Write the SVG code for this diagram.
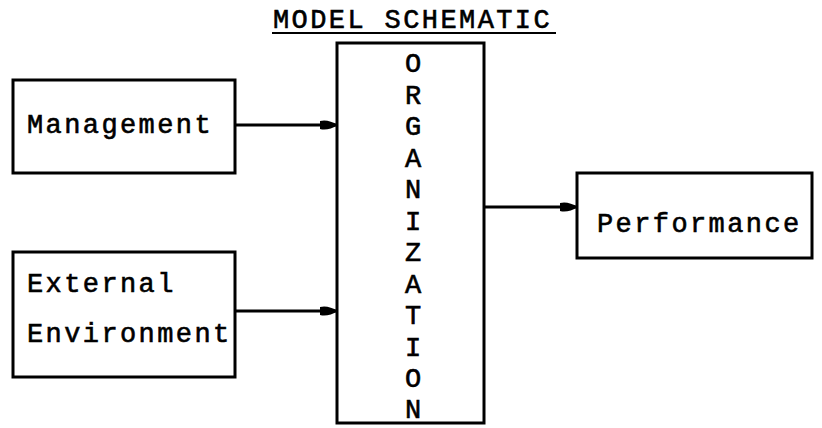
<svg xmlns="http://www.w3.org/2000/svg" width="822" height="428" viewBox="0 0 822 428">
  <style>
    .box { fill: #fff; stroke: #000; stroke-width: 3; }
    .lbl { font-family: "Liberation Mono", "Courier New", monospace; font-size: 27px; letter-spacing: 2.4px; fill: #000; stroke: #000; stroke-width: 0.6; }
    .col { font-family: "Liberation Mono", "Courier New", monospace; font-size: 27px; fill: #000; stroke: #000; stroke-width: 0.6; text-anchor: middle; }
    .wire { stroke: #000; stroke-width: 3; fill: none; }
  </style>
  <defs>
    <!-- filled teardrop arrowhead shared by all connectors -->
    <marker id="head" viewBox="0 0 18 12" refX="17" refY="6" markerWidth="18" markerHeight="12" markerUnits="userSpaceOnUse" orient="auto">
      <path d="M0,2 Q8,0 18,6 Q8,12 0,10 Z" fill="#000"/>
    </marker>
  </defs>
  <rect width="822" height="428" fill="#fff"/>

  <g id="title">
    <text class="lbl" x="273" y="28">MODEL SCHEMATIC</text>
    <line x1="272" y1="33" x2="556" y2="33" stroke="#000" stroke-width="2"/>
  </g>

  <g id="management">
    <rect class="box" x="13" y="80" width="222" height="93"/>
    <text class="lbl" x="27" y="133">Management</text>
  </g>

  <g id="external-environment">
    <rect class="box" x="13" y="252" width="222" height="125"/>
    <text class="lbl" x="27" y="292">External</text>
    <text class="lbl" x="27" y="342">Environment</text>
  </g>

  <g id="organization">
    <rect class="box" x="337" y="43" width="147" height="380"/>
    <text class="col" x="413" y="72">O</text>
    <text class="col" x="413" y="103.5">R</text>
    <text class="col" x="413" y="135">G</text>
    <text class="col" x="413" y="166.5">A</text>
    <text class="col" x="413" y="198">N</text>
    <text class="col" x="413" y="229.5">I</text>
    <text class="col" x="413" y="261">Z</text>
    <text class="col" x="413" y="292.5">A</text>
    <text class="col" x="413" y="324">T</text>
    <text class="col" x="413" y="355.5">I</text>
    <text class="col" x="413" y="387">O</text>
    <text class="col" x="413" y="418">N</text>
  </g>

  <g id="performance">
    <rect class="box" x="577" y="173" width="235" height="85"/>
    <text class="lbl" x="597" y="232">Performance</text>
  </g>

  <g id="connectors">
    <line class="wire" x1="235" y1="125" x2="337" y2="125" marker-end="url(#head)"/>
    <line class="wire" x1="235" y1="311" x2="337" y2="311" marker-end="url(#head)"/>
    <line class="wire" x1="484" y1="207" x2="577" y2="207" marker-end="url(#head)"/>
  </g>
</svg>
